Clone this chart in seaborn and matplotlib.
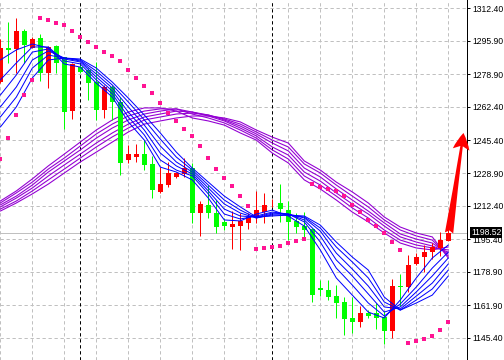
import numpy as np
import pandas as pd
import matplotlib
matplotlib.use("Agg")
import matplotlib.pyplot as plt
import matplotlib.transforms as mtransforms
import seaborn as sns

# ---------------- data ----------------
opens = [1275.2, 1292.1, 1291.6, 1300.9, 1292.4, 1297.5, 1279.8, 1293.3, 1287.6, 1260.5,
         1282.8, 1281.1, 1275.2, 1260.8, 1272.7, 1265.1, 1235.5, 1236.9, 1238.5, 1233.5,
         1219.4, 1222.8, 1226.7, 1228.4, 1231.3, 1208.8, 1212.7, 1208.8, 1204.2, 1201.7,
         1202.2, 1203.7, 1206.7, 1209.3, 1213.5, 1213.8, 1210.1, 1204.6, 1202.2, 1200.4,
         1170.4, 1169.6, 1166.5, 1163.7, 1155.5, 1153.5, 1158.1, 1157.9, 1155.9, 1148.8,
         1171.8, 1171.3, 1182.8, 1186.2, 1189.0, 1190.7, 1194.6]
highs = [1296.7, 1305.3, 1307.3, 1301.9, 1298.0, 1299.4, 1293.3, 1293.8, 1287.7, 1284.5,
         1283.7, 1282.0, 1285.3, 1273.5, 1273.5, 1267.6, 1243.1, 1243.6, 1245.6, 1237.5,
         1232.1, 1234.6, 1229.6, 1236.4, 1233.8, 1214.9, 1222.8, 1215.2, 1205.9, 1209.8,
         1208.8, 1208.5, 1219.8, 1218.6, 1215.6, 1223.3, 1214.7, 1208.6, 1209.1, 1200.9,
         1174.7, 1174.7, 1172.1, 1165.9, 1165.9, 1161.5, 1159.4, 1163.0, 1158.9, 1175.4,
         1177.5, 1187.3, 1188.1, 1192.4, 1193.3, 1199.1, 1200.3]
lows = [1274.5, 1284.5, 1279.5, 1284.5, 1292.3, 1275.7, 1272.1, 1279.6, 1251.2, 1256.3,
        1279.5, 1265.9, 1255.8, 1256.8, 1255.8, 1227.9, 1234.0, 1234.6, 1230.4, 1216.2,
        1218.6, 1222.0, 1226.2, 1227.0, 1203.4, 1197.0, 1205.9, 1198.3, 1200.0, 1190.4,
        1189.9, 1200.5, 1203.4, 1203.7, 1211.8, 1204.2, 1194.9, 1198.5, 1195.9, 1163.7,
        1166.5, 1164.5, 1155.2, 1146.8, 1147.6, 1151.0, 1155.2, 1149.8, 1142.2, 1145.2,
        1161.5, 1168.6, 1182.3, 1178.9, 1185.1, 1186.8, 1194.4]
closes = [1292.4, 1291.3, 1300.9, 1293.8, 1296.7, 1279.8, 1292.9, 1284.8, 1260.0, 1284.0,
          1280.3, 1274.4, 1260.8, 1272.7, 1265.1, 1233.8, 1238.5, 1238.5, 1233.0, 1220.3,
          1223.3, 1229.1, 1229.1, 1231.3, 1208.8, 1213.2, 1208.5, 1201.7, 1202.2, 1203.2,
          1204.6, 1206.7, 1210.1, 1212.7, 1213.8, 1210.5, 1204.2, 1201.7, 1200.0, 1167.0,
          1169.6, 1165.9, 1163.1, 1154.9, 1153.5, 1157.8, 1156.4, 1155.6, 1148.8, 1171.6,
          1171.1, 1182.3, 1186.5, 1189.0, 1191.2, 1194.9, 1198.52]

sar = [1235.8, 1246.8, 1258.3, 1268.4, 1276.1, 1307.6, 1306.7, 1305.2, 1303.9, 1300.9,
       1297.9, 1295.2, 1292.6, 1290.1, 1288.2, 1285.7, 1281.1, 1277.1, 1273.0, 1269.6,
       1264.4, 1259.3, 1255.3, 1251.2, 1247.5, 1242.6, 1236.5, 1230.9, 1226.4, 1222.3,
       1217.2, 1212.2, 1190.2, 1190.7, 1191.2, 1191.9, 1193.3, 1194.4, 1195.3, 1223.3,
       1221.6, 1220.6, 1219.8, 1217.0, 1212.7, 1209.0, 1205.1, 1202.0, 1198.3, 1193.7,
       1189.9, 1142.6, 1143.6, 1144.7, 1146.1, 1149.3, 1153.4]

ma_bars = list(range(0, 57, 2))

blue_1 = [1286.2, 1291.3, 1294.3, 1292.3, 1284.2, 1282.6, 1274.5, 1267.4, 1254.8, 1245.6,
          1231.9, 1229.4, 1225.4, 1216.2, 1205.1, 1204.6, 1208.1, 1210.1, 1207.1, 1202.0,
          1189.9, 1175.7, 1167.0, 1158.4, 1155.4, 1164.5, 1175.7, 1185.8, 1192.4]
blue_2 = [1276.1, 1284.7, 1292.8, 1292.8, 1285.7, 1284.2, 1276.1, 1269.0, 1257.3, 1248.2,
          1235.5, 1230.4, 1227.4, 1218.3, 1208.1, 1205.6, 1207.1, 1209.1, 1208.1, 1204.1,
          1193.9, 1180.7, 1172.1, 1163.0, 1156.4, 1162.5, 1171.1, 1180.7, 1188.8]
blue_3 = [1268.4, 1278.6, 1290.2, 1291.8, 1286.7, 1285.2, 1277.6, 1270.5, 1259.8, 1250.7,
          1239.0, 1232.5, 1228.4, 1219.8, 1210.6, 1207.1, 1206.6, 1208.6, 1208.1, 1205.1,
          1197.0, 1184.8, 1176.7, 1167.6, 1158.4, 1161.0, 1168.6, 1176.7, 1185.8]
blue_4 = [1262.4, 1272.5, 1286.2, 1290.8, 1287.2, 1285.7, 1279.1, 1272.0, 1262.4, 1253.2,
          1242.6, 1234.5, 1229.4, 1221.3, 1213.2, 1208.6, 1206.1, 1208.1, 1208.1, 1206.1,
          1199.5, 1188.3, 1180.2, 1171.6, 1161.0, 1160.0, 1166.5, 1173.1, 1182.8]
blue_5 = [1257.3, 1267.4, 1282.1, 1288.7, 1287.2, 1286.2, 1280.6, 1273.5, 1264.9, 1255.8,
          1246.1, 1237.0, 1230.4, 1222.8, 1215.2, 1210.1, 1206.1, 1207.6, 1207.6, 1206.6,
          1201.0, 1191.4, 1183.8, 1175.7, 1163.5, 1159.4, 1164.5, 1170.1, 1179.7]
blue_6 = [1252.2, 1262.4, 1277.1, 1286.2, 1287.2, 1286.7, 1282.1, 1275.0, 1266.9, 1258.3,
          1249.2, 1239.5, 1231.4, 1224.3, 1217.2, 1211.7, 1206.6, 1207.1, 1207.6, 1207.1,
          1202.5, 1193.9, 1186.3, 1179.7, 1166.0, 1159.4, 1163.0, 1167.0, 1176.7]

purple_1 = [1214.7, 1219.8, 1225.9, 1232.5, 1238.5, 1244.6, 1250.7, 1255.8, 1259.8, 1261.9,
            1261.9, 1260.3, 1256.8, 1255.3, 1253.2, 1249.2, 1245.6, 1239.0, 1234.0, 1225.4,
            1220.8, 1215.2, 1209.1, 1204.1, 1198.5, 1193.4, 1190.9, 1189.9, 1191.4]
purple_2 = [1213.7, 1218.8, 1224.3, 1230.9, 1236.5, 1242.6, 1248.7, 1253.7, 1257.8, 1260.3,
            1261.4, 1261.4, 1258.8, 1256.8, 1254.3, 1250.7, 1246.6, 1240.6, 1236.0, 1227.4,
            1222.8, 1217.2, 1211.2, 1206.1, 1200.0, 1194.9, 1192.4, 1190.9, 1189.9]
purple_3 = [1212.7, 1217.2, 1222.8, 1229.4, 1235.0, 1240.6, 1246.6, 1251.7, 1255.8, 1258.8,
            1260.3, 1261.4, 1259.8, 1257.8, 1255.3, 1251.7, 1247.7, 1242.1, 1238.0, 1229.4,
            1224.8, 1218.8, 1213.2, 1208.1, 1202.0, 1196.5, 1193.9, 1191.9, 1188.8]
purple_4 = [1211.7, 1216.2, 1221.3, 1227.4, 1233.0, 1238.5, 1244.1, 1249.2, 1253.7, 1257.3,
            1258.8, 1260.3, 1259.8, 1258.3, 1255.8, 1252.7, 1248.7, 1244.1, 1240.1, 1231.4,
            1226.9, 1220.8, 1215.2, 1209.6, 1203.6, 1198.0, 1195.4, 1193.4, 1187.8]
purple_5 = [1210.6, 1214.7, 1219.8, 1225.4, 1230.9, 1236.5, 1242.1, 1247.2, 1251.7, 1255.8,
            1257.3, 1258.8, 1259.3, 1258.3, 1256.3, 1253.7, 1249.7, 1245.6, 1242.1, 1233.5,
            1228.9, 1222.8, 1217.2, 1211.7, 1205.1, 1200.0, 1197.0, 1194.9, 1186.8]
purple_6 = [1209.6, 1213.7, 1218.3, 1223.3, 1228.9, 1234.5, 1239.5, 1244.6, 1249.7, 1253.7,
            1255.3, 1256.8, 1257.8, 1257.8, 1256.8, 1254.8, 1250.7, 1247.1, 1244.1, 1235.0,
            1230.4, 1224.3, 1219.3, 1213.7, 1206.6, 1201.5, 1198.5, 1196.5, 1185.8]

y_ticks = [1145.40, 1161.90, 1178.90, 1195.40, 1212.40, 1228.90,
           1245.40, 1262.40, 1278.90, 1295.90, 1312.40]
last_price = 1198.52
separator_bars = [10, 34]
arrow_target = 1249.2

# ---------------- style ----------------
sns.set_style("white")
plt.rcParams['font.family'] = ['Liberation Sans', 'DejaVu Sans']
plt.rcParams['lines.scale_dashes'] = False

PX = 0.72  # one pixel in points at dpi 100
dash = (0, (3.3 * PX, 2.7 * PX))
LABEL_SIZE = 6.2

fig = plt.figure(figsize=(5.04, 3.6), dpi=100)
ax = fig.add_axes([0, 0, 467 / 504, 1])
ax.set_facecolor('white')

n = len(opens)
idx = np.arange(n)

# grid
ax.set_xticks(np.arange(0, n, 4))
ax.set_yticks(y_ticks)
ax.set_yticklabels([f"{v:.2f}" for v in y_ticks])
ax.grid(True, color='#c0c0c0', linestyle=dash, linewidth=1 * PX)
ax.set_axisbelow(True)

# last price line and period separators
ax.axhline(last_price, color='#c0c0c0', lw=1 * PX, zorder=1.5)
for b in separator_bars:
    ax.axvline(b, color='black', linestyle=dash, lw=1 * PX, zorder=1.6)

# purple bundle (under candles)
purple = [purple_1, purple_2, purple_3, purple_4, purple_5, purple_6]
df_p = pd.DataFrame([(x, v, f"p{k}") for k, line in enumerate(purple)
                     for x, v in zip(ma_bars, line)], columns=['bar', 'price', 'line'])
sns.lineplot(data=df_p, x='bar', y='price', units='line', estimator=None,
             color='#9400d3', lw=1.1 * PX, legend=False, ax=ax, zorder=2)

# candles
up = np.array(closes) >= np.array(opens)
cols = np.where(up, '#ff0000', '#00ff00')
ax.vlines(idx, lows, highs, colors=cols, lw=1 * PX, zorder=3)
bottoms = np.minimum(opens, closes)
heights = np.maximum(np.abs(np.array(closes) - np.array(opens)), 0.4)
ax.bar(idx, heights, bottom=bottoms, width=0.62, color=cols, linewidth=0, zorder=3)

# blue bundle (over candles)
blue = [blue_1, blue_2, blue_3, blue_4, blue_5, blue_6]
df_b = pd.DataFrame([(x, v, f"b{k}") for k, line in enumerate(blue)
                     for x, v in zip(ma_bars, line)], columns=['bar', 'price', 'line'])
sns.lineplot(data=df_b, x='bar', y='price', units='line', estimator=None,
             color='#0000ff', lw=1 * PX, legend=False, ax=ax, zorder=4)

# parabolic SAR dots
sns.scatterplot(x=idx, y=sar, color='#ff1493', marker='s', s=9, linewidth=0,
                ax=ax, zorder=5)

# red forecast arrow
ax.annotate('', xy=(n - 1 + 1.9, arrow_target), xytext=(n - 1 + 0.1, last_price),
            arrowprops=dict(arrowstyle='fancy,head_length=0.6,head_width=0.6,tail_width=0.3',
                            fc='#ff0000', ec='#ff0000', lw=0, shrinkA=0, shrinkB=0,
                            mutation_scale=20),
            annotation_clip=False, zorder=6)

# axes limits, spines, ticks
ax.set_xlim(-0.04, 58.34)
ax.set_ylim(1134.10, 1316.61)
ax.set_xlabel('')
ax.set_ylabel('')
for s in ['top', 'left', 'bottom']:
    ax.spines[s].set_visible(False)
ax.spines['right'].set_visible(True)
ax.spines['right'].set_color('black')
ax.spines['right'].set_linewidth(1 * PX)
ax.yaxis.tick_right()
ax.tick_params(axis='y', direction='out', length=3 * PX, width=1 * PX, pad=1.4,
               labelsize=LABEL_SIZE, colors='black', right=True, left=False)
ax.tick_params(axis='x', length=0, labelbottom=False, bottom=False)

# last price box
trans = mtransforms.blended_transform_factory(ax.transAxes, ax.transData)
ax.text(471.0 / 467, last_price, f"{last_price:.2f}", transform=trans, ha='left', va='center',
        fontsize=LABEL_SIZE, color='white', zorder=10, clip_on=False,
        bbox=dict(boxstyle='square,pad=0.12', fc='black', ec='none'))

fig.savefig('out.png', dpi=100)
